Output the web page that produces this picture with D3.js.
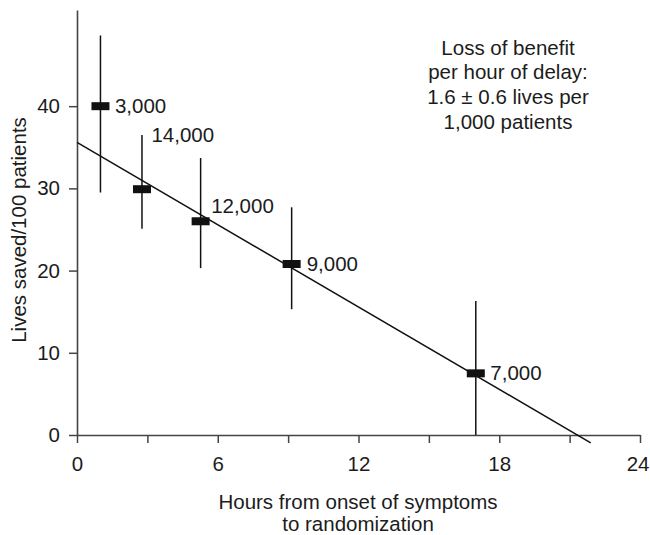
<!DOCTYPE html>
<html>
<head>
<meta charset="utf-8">
<script src="https://cdn.jsdelivr.net/npm/d3@7"></script>
<style>
  html, body { margin: 0; padding: 0; background: #fff; }
  svg { display: block; font-family: "Liberation Sans", Arial, Helvetica, sans-serif; }
</style>
</head>
<body>
<svg id="chart" width="650" height="535"></svg>
<script>
// Hours from symptom onset to randomization (group midpoints)
const hours = [1, 2.77, 5.27, 9.15, 17];
// Lives saved per 100 patients, with error bar limits
const livesSaved = [40, 29.9, 26, 20.8, 7.5];
const lowerCI = [29.5, 25.1, 20.3, 15.3, 0];
const upperCI = [48.6, 36.5, 33.7, 27.7, 16.3];
// Number of patients in each group
const patients = ["3,000", "14,000", "12,000", "9,000", "7,000"];

// Fitted trend: intercept and slope (per hour), drawn over its range
const trendIntercept = 35.6;
const trendSlope = -1.669;
const trendRange = [0, 21.9];

const yTicks = [0, 10, 20, 30, 40];
const xTicks = [0, 3, 6, 9, 12, 15, 18, 21, 24];
const xTickLabels = ["0", "", "6", "", "12", "", "18", "", "24"];

const note = ["Loss of benefit", "per hour of delay:", "1.6 \u00B1 0.6 lives per", "1,000 patients"];

const svg = d3.select("#chart");
const fontSize = 20.5;
const ink = "#1c1c1c";

const x = d3.scaleLinear().domain([0, 24]).range([77, 640]);
const y = d3.scaleLinear().domain([0, 51.7]).range([435, 10]);

// Axes
const yAxis = d3.axisLeft(y).tickValues(yTicks).tickSize(8).tickSizeOuter(0).tickPadding(9);
const gy = svg.append("g").attr("transform", `translate(${x(0)},0)`).call(yAxis);

const xAxis = d3.axisBottom(x).tickValues(xTicks).tickSize(8).tickSizeOuter(0)
  .tickFormat((d, i) => xTickLabels[i]).tickPadding(13);
const gx = svg.append("g").attr("transform", `translate(0,${y(0)})`).call(xAxis);

[gx, gy].forEach(g => {
  g.select(".domain").attr("stroke", "#444").attr("stroke-width", 1.6);
  g.selectAll(".tick line").attr("stroke", "#444").attr("stroke-width", 1.5);
  g.selectAll(".tick text").attr("fill", ink).attr("font-size", fontSize)
    .attr("font-family", "Liberation Sans, Arial, sans-serif");
});
// keep the last hour label inside the right edge
gx.selectAll(".tick text").filter(d => d === 24)
  .attr("text-anchor", "end").attr("x", 9);

// Trend line
svg.append("line")
  .attr("x1", x(trendRange[0])).attr("y1", y(trendIntercept + trendSlope * trendRange[0]))
  .attr("x2", x(trendRange[1])).attr("y2", y(trendIntercept + trendSlope * trendRange[1]))
  .attr("stroke", "#111").attr("stroke-width", 1.5);

const pts = hours.map((h, i) => ({ h, v: livesSaved[i], lo: lowerCI[i], hi: upperCI[i], n: patients[i] }));

// Error bars
svg.append("g").selectAll("line").data(pts).join("line")
  .attr("x1", d => x(d.h)).attr("x2", d => x(d.h))
  .attr("y1", d => y(d.lo)).attr("y2", d => y(d.hi))
  .attr("stroke", "#111").attr("stroke-width", 1.5);

// Point estimates as short thick bars
const barW = 18, barH = 8;
svg.append("g").selectAll("rect").data(pts).join("rect")
  .attr("x", d => x(d.h) - barW / 2).attr("y", d => y(d.v) - barH / 2)
  .attr("width", barW).attr("height", barH).attr("fill", "#111");

// Group size labels; some sit beside the bar, others higher up the error bar
const labelPlace = [
  { at: d => d.v, dx: 14.5 },
  { at: d => d.hi, dx: 9.5 },
  { at: d => d.v + 1.8, dx: 10.5 },
  { at: d => d.v, dx: 15 },
  { at: d => d.v, dx: 14.5 }
];
svg.append("g").selectAll("text").data(pts).join("text")
  .attr("x", (d, i) => x(d.h) + labelPlace[i].dx)
  .attr("y", (d, i) => y(labelPlace[i].at(d)) + 7)
  .attr("font-size", fontSize).attr("fill", ink)
  .text(d => d.n);

// Annotation
svg.append("g").selectAll("text").data(note).join("text")
  .attr("x", 508).attr("y", (d, i) => 54.5 + i * 24.7)
  .attr("text-anchor", "middle").attr("font-size", fontSize).attr("fill", ink)
  .text(d => d);

// Axis titles
svg.append("text").attr("x", 358).attr("y", 509)
  .attr("text-anchor", "middle").attr("font-size", fontSize).attr("fill", ink)
  .text("Hours from onset of symptoms");
svg.append("text").attr("x", 358).attr("y", 531)
  .attr("text-anchor", "middle").attr("font-size", fontSize).attr("fill", ink)
  .text("to randomization");
svg.append("text")
  .attr("transform", "translate(26,230) rotate(-90)")
  .attr("text-anchor", "middle").attr("font-size", fontSize).attr("fill", ink)
  .text("Lives saved/100 patients");
</script>
</body>
</html>
